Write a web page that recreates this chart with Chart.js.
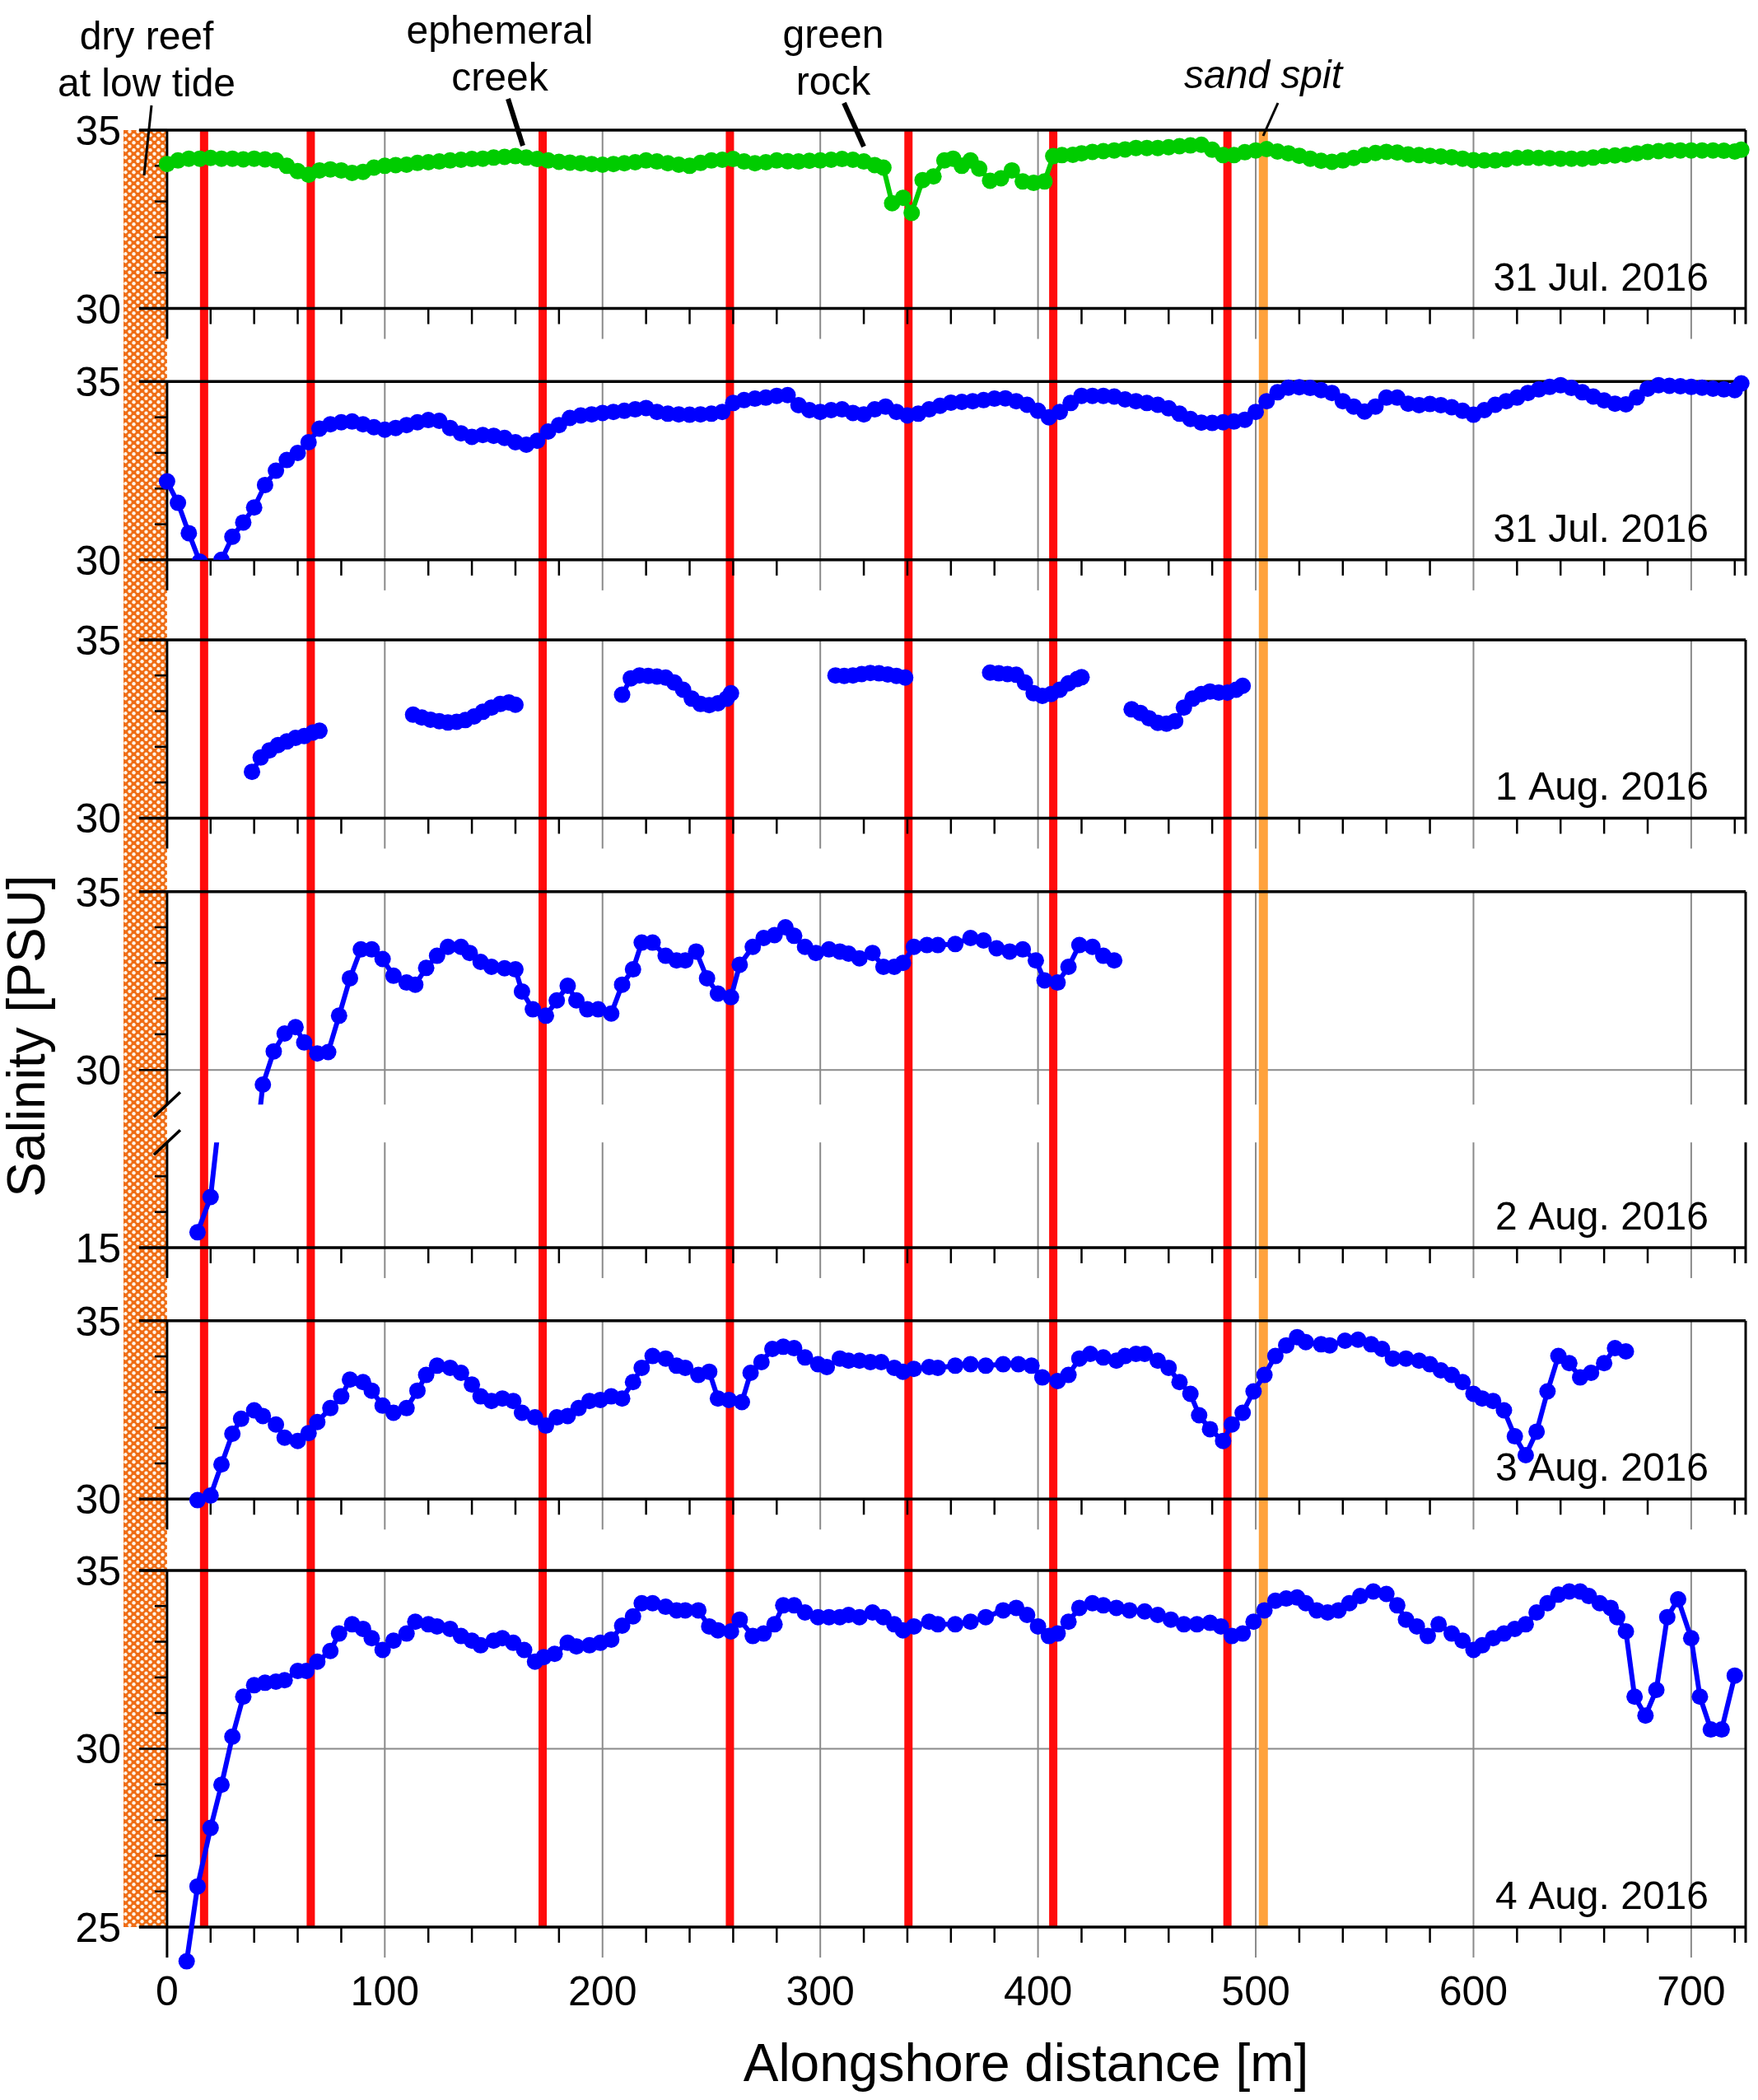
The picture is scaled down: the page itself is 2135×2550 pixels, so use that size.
<!DOCTYPE html>
<html>
<head>
<meta charset="utf-8">
<title>Alongshore salinity</title>
<script src="https://cdn.jsdelivr.net/npm/chart.js@4.4.1/dist/chart.umd.min.js"></script>
<style>
  html, body { margin: 0; padding: 0; background: #fff; }
  canvas { display: block; }
</style>
</head>
<body>
<canvas id="salinity" width="2135" height="2550"></canvas>
<script>
// alongshore distance [m] and salinity [PSU] of each survey
var jul31aDist = [0, 5, 10, 15, 20, 25, 30, 35, 40, 45,
  50, 55, 60, 65, 70, 75, 80, 85, 90, 95,
  100, 105, 110, 115, 120, 125, 130, 135, 140, 145,
  150, 155, 160, 165, 170, 175, 180, 185, 190, 195,
  200, 205, 210, 215, 220, 225, 230, 235, 240, 245,
  250, 255, 260, 265, 270, 275, 280, 285, 290, 295,
  300, 305, 310, 315, 320, 325, 329, 333, 338, 342,
  347, 352, 357, 361, 365, 369, 373, 378, 383, 388,
  393, 398, 403, 407, 411, 416, 420, 425, 430, 435,
  440, 445, 450, 455, 460, 465, 470, 475, 480, 485,
  490, 495, 500, 505, 510, 515, 520, 525, 530, 535,
  540, 545, 550, 555, 560, 565, 570, 575, 580, 585,
  590, 595, 600, 605, 610, 615, 620, 625, 630, 635,
  640, 645, 650, 655, 660, 665, 670, 675, 680, 685,
  690, 695, 700, 705, 710, 715, 720, 723];
var jul31aSal = [34.05, 34.15, 34.2, 34.2, 34.22, 34.2, 34.2, 34.18, 34.2, 34.18,
  34.15, 34.0, 33.85, 33.75, 33.87, 33.9, 33.87, 33.8, 33.83, 33.95,
  34.0, 34.02, 34.03, 34.08, 34.1, 34.12, 34.15, 34.17, 34.19, 34.2,
  34.23, 34.25, 34.27, 34.23, 34.19, 34.15, 34.11, 34.09, 34.07, 34.05,
  34.03, 34.05, 34.07, 34.1, 34.15, 34.12, 34.07, 34.03, 34.0, 34.08,
  34.15, 34.17, 34.19, 34.12, 34.07, 34.1, 34.15, 34.13, 34.12, 34.14,
  34.15, 34.17, 34.19, 34.17, 34.12, 34.02, 33.95, 32.95, 33.1, 32.68,
  33.6, 33.7, 34.15, 34.2, 34.0, 34.15, 33.92, 33.58, 33.65, 33.87,
  33.56, 33.52, 33.56, 34.27, 34.3, 34.31, 34.35, 34.39, 34.41, 34.43,
  34.46, 34.5, 34.5, 34.5, 34.52, 34.55, 34.57, 34.59, 34.45, 34.3,
  34.3, 34.38, 34.43, 34.47, 34.4, 34.35, 34.28, 34.2, 34.14, 34.11,
  34.15, 34.22, 34.3, 34.36, 34.39, 34.37, 34.32, 34.3, 34.28, 34.26,
  34.24, 34.2, 34.16, 34.15, 34.15, 34.18, 34.22, 34.23, 34.22, 34.21,
  34.2, 34.2, 34.2, 34.23, 34.27, 34.29, 34.31, 34.35, 34.39, 34.41,
  34.43, 34.43, 34.43, 34.43, 34.43, 34.42, 34.4, 34.45];

var jul31bDist = [0, 5, 10, 15, 20, 25, 30, 35, 40, 45,
  50, 55, 60, 65, 70, 75, 80, 85, 90, 95,
  100, 105, 110, 115, 120, 125, 130, 135, 140, 145,
  150, 155, 160, 165, 170, 175, 180, 185, 190, 195,
  200, 205, 210, 215, 220, 225, 230, 235, 240, 245,
  250, 255, 260, 265, 270, 275, 280, 285, 290, 295,
  300, 305, 310, 315, 320, 325, 330, 335, 340, 345,
  350, 355, 360, 365, 370, 375, 380, 385, 390, 395,
  400, 405, 410, 415, 420, 425, 430, 435, 440, 445,
  450, 455, 460, 465, 470, 475, 480, 485, 490, 495,
  500, 505, 510, 515, 520, 525, 530, 535, 540, 545,
  550, 555, 560, 565, 570, 575, 580, 585, 590, 595,
  600, 605, 610, 615, 620, 625, 630, 635, 640, 645,
  650, 655, 660, 665, 670, 675, 680, 685, 690, 695,
  700, 705, 710, 715, 720, 723];
var jul31bSal = [32.2, 31.6, 30.75, 29.95, 29.3, 30.0, 30.65, 31.05, 31.47, 32.1,
  32.5, 32.8, 33.0, 33.3, 33.68, 33.8, 33.86, 33.88, 33.8, 33.72,
  33.65, 33.7, 33.78, 33.86, 33.92, 33.9, 33.7, 33.55, 33.45, 33.5,
  33.48, 33.42, 33.3, 33.23, 33.34, 33.6, 33.78, 33.98, 34.05, 34.08,
  34.12, 34.15, 34.18, 34.22, 34.26, 34.15, 34.1, 34.08, 34.07, 34.08,
  34.1, 34.15, 34.4, 34.48, 34.52, 34.55, 34.6, 34.62, 34.34, 34.2,
  34.15, 34.2, 34.22, 34.12, 34.08, 34.22, 34.3, 34.15, 34.05, 34.1,
  34.22, 34.32, 34.41, 34.43, 34.45, 34.48, 34.52, 34.53, 34.45, 34.35,
  34.18, 34.0, 34.15, 34.4, 34.6, 34.6, 34.6, 34.58, 34.5, 34.45,
  34.4, 34.35, 34.25, 34.1, 33.95, 33.85, 33.84, 33.86, 33.88, 33.93,
  34.15, 34.45, 34.7, 34.83, 34.84, 34.82, 34.76, 34.68, 34.45, 34.3,
  34.16, 34.3, 34.55, 34.55, 34.38, 34.34, 34.37, 34.34, 34.28, 34.18,
  34.07, 34.2, 34.35, 34.45, 34.55, 34.68, 34.78, 34.85, 34.9, 34.82,
  34.7, 34.58, 34.47, 34.38, 34.36, 34.56, 34.8, 34.9, 34.88, 34.87,
  34.85, 34.83, 34.8, 34.78, 34.76, 34.95];

// null = no record between two stretches of the 1 Aug. survey
var aug1Dist = [39, 43, 47, 51, 55, 59, 63, 67, 70, 90,
  113, 117, 121, 125, 129, 133, 137, 141, 145, 149, 153, 157, 160, 185,
  209, 213, 217, 221, 225, 229, 233, 237, 241, 245, 249, 253, 257, 259, 283,
  307, 311, 315, 319, 323, 327, 331, 335, 339, 360,
  378, 382, 386, 390, 394, 398, 402, 406, 410, 414, 418, 420, 430,
  443, 447, 451, 455, 459, 463, 467, 471, 475, 479, 483, 487, 491, 494];
var aug1Sal = [31.3, 31.7, 31.9, 32.05, 32.15, 32.25, 32.3, 32.4, 32.45, null,
  32.9, 32.82, 32.76, 32.72, 32.68, 32.7, 32.75, 32.85, 32.98, 33.1, 33.2, 33.24, 33.18, null,
  33.46, 33.92, 34.0, 33.99, 33.97, 33.94, 33.8, 33.6, 33.35, 33.2, 33.17, 33.22, 33.35, 33.5, null,
  34.0, 33.99, 34.0, 34.04, 34.07, 34.06, 34.03, 33.99, 33.94, null,
  34.08, 34.06, 34.04, 34.02, 33.8, 33.5, 33.43, 33.48, 33.6, 33.78, 33.9, 33.95, null,
  33.05, 32.95, 32.8, 32.67, 32.65, 32.72, 33.1, 33.35, 33.48, 33.55, 33.52, 33.52, 33.6, 33.71];

var aug2Dist = [14, 20, 44, 49, 54, 59, 63, 69, 74, 79,
  84, 89, 94, 99, 104, 110, 114, 119, 124, 129,
  135, 139, 144, 149, 155, 160, 163, 168, 174, 179,
  184, 188, 193, 198, 204, 209, 214, 218, 223, 229,
  234, 238, 243, 248, 253, 259, 263, 269, 274, 279,
  284, 288, 293, 298, 304, 309, 313, 318, 324, 329,
  334, 338, 343, 349, 354, 362, 369, 375, 381, 387,
  393, 399, 403, 409, 414, 419, 425, 430, 435];
var aug2Sal = [15.43, 16.42, 29.59, 30.52, 31.02, 31.2, 30.77, 30.46, 30.5, 31.52,
  32.57, 33.38, 33.38, 33.11, 32.64, 32.45, 32.39, 32.86, 33.2, 33.45,
  33.45, 33.28, 33.03, 32.89, 32.85, 32.82, 32.2, 31.7, 31.52, 31.95,
  32.36, 31.95, 31.7, 31.7, 31.58, 32.39, 32.82, 33.57, 33.57, 33.2,
  33.07, 33.07, 33.32, 32.57, 32.14, 32.04, 32.95, 33.45, 33.7, 33.78,
  34.0, 33.76, 33.45, 33.28, 33.38, 33.32, 33.26, 33.13, 33.28, 32.89,
  32.89, 33.0, 33.45, 33.5, 33.5, 33.53, 33.7, 33.63, 33.41, 33.32,
  33.38, 33.07, 32.51, 32.45, 32.89, 33.5, 33.45, 33.2, 33.07];

var aug3Dist = [14, 20, 25, 30, 34, 40, 44, 50, 54, 60,
  65, 69, 75, 80, 84, 90, 94, 99, 104, 110,
  115, 119, 124, 130, 135, 140, 144, 149, 154, 159,
  163, 169, 174, 179, 184, 189, 194, 199, 204, 209,
  214, 218, 223, 229, 234, 238, 244, 249, 253, 258,
  264, 268, 273, 278, 283, 288, 293, 299, 303, 309,
  313, 318, 323, 328, 334, 338, 343, 350, 354, 362,
  369, 376, 384, 391, 397, 402, 409, 414, 419, 424,
  430, 436, 440, 445, 449, 455, 460, 465, 470, 474,
  479, 485, 489, 494, 499, 504, 509, 514, 519, 523,
  530, 534, 541, 547, 553, 558, 563, 569, 575, 580,
  585, 590, 595, 600, 604, 609, 614, 619, 624, 629,
  634, 639, 644, 649, 654, 660, 665, 670];
var aug3Sal = [29.97, 30.1, 30.97, 31.83, 32.25, 32.49, 32.33, 32.09, 31.72, 31.63,
  31.85, 32.16, 32.55, 32.88, 33.35, 33.28, 33.04, 32.62, 32.42, 32.55,
  33.04, 33.48, 33.74, 33.68, 33.54, 33.21, 32.88, 32.75, 32.82, 32.75,
  32.42, 32.29, 32.06, 32.29, 32.33, 32.55, 32.75, 32.78, 32.88, 32.82,
  33.28, 33.68, 34.01, 33.94, 33.74, 33.68, 33.48, 33.57, 32.82, 32.78,
  32.72, 33.54, 33.84, 34.21, 34.27, 34.23, 33.97, 33.78, 33.7, 33.94,
  33.88, 33.88, 33.84, 33.84, 33.68, 33.57, 33.65, 33.7, 33.68, 33.74,
  33.78, 33.74, 33.78, 33.78, 33.74, 33.41, 33.31, 33.48, 33.94, 34.07,
  33.97, 33.88, 34.01, 34.07, 34.07, 33.88, 33.68, 33.28, 32.95, 32.35,
  31.96, 31.63, 32.09, 32.42, 33.02, 33.48, 34.01, 34.31, 34.54, 34.4,
  34.34, 34.31, 34.44, 34.47, 34.34, 34.21, 33.94, 33.94, 33.88, 33.78,
  33.61, 33.48, 33.28, 32.95, 32.82, 32.75, 32.49, 31.76, 31.23, 31.89,
  33.02, 34.01, 33.81, 33.41, 33.54, 33.81, 34.23, 34.14];

var aug4Dist = [9, 14, 20, 25, 30, 35, 40, 45, 50, 54,
  60, 64, 69, 75, 79, 85, 90, 94, 99, 104,
  110, 114, 120, 124, 130, 135, 140, 144, 150, 154,
  159, 164, 169, 173, 178, 184, 188, 194, 199, 204,
  209, 214, 218, 223, 229, 234, 238, 244, 249, 253,
  259, 263, 269, 274, 279, 283, 288, 293, 299, 304,
  309, 313, 318, 324, 329, 334, 338, 343, 350, 354,
  362, 369, 376, 384, 390, 395, 400, 405, 409, 414,
  419, 425, 430, 436, 442, 449, 455, 461, 467, 473,
  479, 484, 489, 494, 499, 504, 509, 514, 519, 523,
  528, 533, 538, 543, 548, 554, 560, 565, 569, 574,
  579, 584, 590, 595, 600, 604, 609, 614, 619, 624,
  629, 634, 639, 644, 649, 653, 658, 663, 666, 670,
  674, 679, 684, 689, 694, 700, 704, 709, 714, 720];
var aug4Sal = [24.04, 26.14, 27.78, 28.99, 30.34, 31.46, 31.78, 31.85, 31.88, 31.92,
  32.18, 32.18, 32.44, 32.74, 33.23, 33.49, 33.36, 33.1, 32.77, 33.03,
  33.23, 33.56, 33.49, 33.43, 33.36, 33.16, 33.03, 32.9, 33.03, 33.1,
  32.97, 32.77, 32.44, 32.57, 32.66, 32.97, 32.87, 32.9, 32.97, 33.06,
  33.45, 33.71, 34.08, 34.08, 33.98, 33.88, 33.88, 33.88, 33.43, 33.32,
  33.29, 33.62, 33.16, 33.23, 33.49, 34.02, 34.02, 33.82, 33.69, 33.69,
  33.69, 33.75, 33.69, 33.82, 33.69, 33.49, 33.32, 33.43, 33.56, 33.49,
  33.49, 33.56, 33.69, 33.88, 33.95, 33.75, 33.43, 33.16, 33.23, 33.56,
  33.95, 34.08, 34.02, 33.95, 33.88, 33.85, 33.75, 33.62, 33.49, 33.49,
  33.53, 33.43, 33.16, 33.23, 33.56, 33.88, 34.15, 34.21, 34.24, 34.08,
  33.88, 33.82, 33.88, 34.08, 34.28, 34.41, 34.34, 34.02, 33.62, 33.43,
  33.16, 33.49, 33.23, 33.03, 32.77, 32.9, 33.1, 33.23, 33.36, 33.49,
  33.82, 34.08, 34.32, 34.41, 34.41, 34.28, 34.08, 33.95, 33.69, 33.29,
  31.46, 30.93, 31.65, 33.69, 34.19, 33.1, 31.46, 30.54, 30.54, 32.05];

var surveyDates = ["31 Jul. 2016", "31 Jul. 2016", "1 Aug. 2016", "2 Aug. 2016", "3 Aug. 2016", "4 Aug. 2016"];
var outletDist = [17, 66, 172.5, 258.5, 340.5, 407, 487]; // red lines
var spitDist = [503.5]; // sand spit (orange line)
var xTicks = [0, 100, 200, 300, 400, 500, 600, 700];

// site notes above the top panel
var siteNotes = [
  { lines: ["dry reef", "at low tide"], x: 178, y: 60 },
  { lines: ["ephemeral", "creek"], x: 607, y: 53 },
  { lines: ["green", "rock"], x: 1012, y: 58 },
  { lines: ["sand spit"], x: 1534, y: 107, italic: true },
];
var leaders = [[184, 128, 175, 213, 3], [617, 120, 635, 177, 6], [1025, 125, 1049, 178, 6], [1552, 125, 1534, 165, 3]];

// panel stack, top to bottom; y4/y5 are the two halves of the broken 2 Aug. axis
var panels = [
  { id: "y1", min: 30, max: 35, labels: [30, 35], date: 0 },
  { id: "y2", min: 30, max: 37.05, labels: [30, 35], date: 1 },
  { id: "y3", min: 30, max: 37.24, labels: [30, 35], date: 2 },
  { id: "y4", min: 29.03, max: 37.06, labels: [30, 35], grey: [30], open: true, gapAfter: 46 },
  { id: "y5", min: 15, max: 17.95, labels: [15], date: 3 },
  { id: "y6", min: 30, max: 37.05, labels: [30, 35], date: 4 },
  { id: "y7", min: 25, max: 37, labels: [25, 30, 35], grey: [30], date: 5 },
];

var FONT = '"Liberation Sans", Arial, Helvetica, sans-serif';
// panels fill top..bottom; the chart area runs a little lower so the last low point still shows
var area = { left: 150, right: 2120, top: 158, bottom: 2340 };
var chartBottom = 2420;

// every panel uses the same PSU-to-pixel ratio; each y scale spans the whole chart area
var span = panels.reduce(function (s, p) { return s + p.max - p.min; }, 0);
var gaps = panels.reduce(function (s, p) { return s + (p.gapAfter || 0); }, 0);
var unit = (area.bottom - area.top - gaps) / span;
var scales = { x: { type: "linear", min: -20, max: 725, display: false, bounds: "data" } };
var cursor = area.top;
panels.forEach(function (p) {
  var smax = p.max + (cursor - area.top) / unit;
  scales[p.id] = { type: "linear", display: false, bounds: "data", min: smax - (chartBottom - area.top) / unit, max: smax };
  cursor += (p.max - p.min) * unit + (p.gapAfter || 0);
});

function series(dist, sal, axis, color, clip) {
  return {
    data: dist.map(function (d, i) { return { x: d, y: sal[i] }; }),
    yAxisID: axis,
    borderColor: color,
    backgroundColor: color,
    pointBackgroundColor: color,
    borderWidth: 6,
    pointRadius: 10,
    pointBorderWidth: 0,
    tension: 0,
    spanGaps: false,
    clip: false,
    panelClip: clip || null,
  };
}

function line(ctx, x1, y1, x2, y2) {
  ctx.beginPath();
  ctx.moveTo(x1, y1);
  ctx.lineTo(x2, y2);
  ctx.stroke();
}

function reefPattern(ctx) {
  var c = document.createElement("canvas");
  c.width = 10;
  c.height = 9;
  var g = c.getContext("2d");
  g.fillStyle = "#ef6c14";
  g.fillRect(0, 0, 10, 9);
  g.fillStyle = "#fff5e8";
  [[2.5, 2.25], [7.5, 6.75]].forEach(function (d) {
    g.beginPath();
    g.arc(d[0], d[1], 2.2, 0, Math.PI * 2);
    g.fill();
  });
  return ctx.createPattern(c, "repeat");
}

// clip a dataset to the top and/or bottom edge of its own panel
var panelClip = {
  id: "panelClip",
  beforeDatasetDraw: function (chart, args) {
    var ds = chart.data.datasets[args.index];
    if (!ds.panelClip) return;
    var p = panels.find(function (q) { return q.id === ds.yAxisID; });
    var y = chart.scales[p.id];
    var top = ds.panelClip.top ? y.getPixelForValue(p.max) : 0;
    var bottom = ds.panelClip.bottom ? y.getPixelForValue(p.min) : chart.height;
    chart.ctx.save();
    chart.ctx.beginPath();
    chart.ctx.rect(0, top, chart.width, bottom - top);
    chart.ctx.clip();
  },
  afterDatasetDraw: function (chart, args) {
    if (chart.data.datasets[args.index].panelClip) chart.ctx.restore();
  },
};

var frame = {
  id: "frame",
  beforeDatasetsDraw: function (chart) {
    var ctx = chart.ctx;
    var xs = chart.scales.x;
    var px = function (v) { return xs.getPixelForValue(v); };
    var x0 = px(0), xR = px(725);
    var last = panels[panels.length - 1];
    var top = chart.chartArea.top;
    var bottom = chart.scales[last.id].getPixelForValue(last.min);
    ctx.save();
    ctx.lineCap = "butt";

    // dry reef
    ctx.fillStyle = reefPattern(ctx);
    ctx.fillRect(px(-20), top, x0 - px(-20), bottom - top);

    // grey grid
    ctx.strokeStyle = "#8a8a8a";
    ctx.lineWidth = 2;
    panels.forEach(function (p) {
      var y = chart.scales[p.id];
      var gTop = y.getPixelForValue(Math.min(35, p.max));
      var gBot = y.getPixelForValue(p.min);
      xTicks.slice(1).forEach(function (v) {
        line(ctx, px(v), gTop, px(v), gBot + (p.open ? 0 : 37));
      });
      (p.grey || []).forEach(function (v) {
        line(ctx, x0 - 34, y.getPixelForValue(v), xR, y.getPixelForValue(v));
      });
    });

    // outlets and sand spit
    ctx.lineWidth = 10;
    ctx.strokeStyle = "#ff0c0c";
    outletDist.forEach(function (v) { line(ctx, px(v), top, px(v), bottom); });
    ctx.lineWidth = 11;
    ctx.strokeStyle = "#ffa23c";
    spitDist.forEach(function (v) { line(ctx, px(v), top, px(v), bottom); });

    // panel frames, axis and ticks
    ctx.strokeStyle = "#000";
    panels.forEach(function (p) {
      var y = chart.scales[p.id];
      var gTop = y.getPixelForValue(Math.min(35, p.max));
      var gBot = y.getPixelForValue(p.min);
      ctx.lineWidth = 3.5;
      if (p.max >= 35) line(ctx, x0 - 34, gTop, xR, gTop);
      if (!p.open) line(ctx, x0 - 34, gBot, xR, gBot);
      ctx.lineWidth = 3;
      line(ctx, x0, gTop, x0, gBot + (p.open ? 0 : 37));
      line(ctx, xR, gTop, xR, gBot + (p.open ? 0 : 19));
      ctx.lineWidth = 2.5;
      for (var v = Math.ceil(p.min); v <= Math.min(35, p.max); v++) {
        var len = p.labels.indexOf(v) >= 0 ? 34 : 15;
        line(ctx, x0 - len, y.getPixelForValue(v), x0, y.getPixelForValue(v));
      }
      if (!p.open) {
        for (var m = 20; m < 725; m += 20) {
          if (m % 100) line(ctx, px(m), gBot, px(m), gBot + 19);
        }
      } else {
        // axis break marks
        ctx.lineWidth = 3.5;
        [gBot, gBot + p.gapAfter].forEach(function (yb) {
          line(ctx, x0 - 16, yb + 15, x0 + 16, yb - 15);
        });
      }
    });
    ctx.restore();
  },
  afterDraw: function (chart) {
    var ctx = chart.ctx;
    var xs = chart.scales.x;
    ctx.save();
    ctx.fillStyle = "#000";
    ctx.textBaseline = "alphabetic";

    ctx.font = "50px " + FONT;
    ctx.textAlign = "right";
    panels.forEach(function (p) {
      var y = chart.scales[p.id];
      p.labels.forEach(function (v) { ctx.fillText(String(v), 147, y.getPixelForValue(v) + 18); });
    });

    ctx.font = "48px " + FONT;
    panels.forEach(function (p) {
      if (p.date === undefined) return;
      ctx.fillText(surveyDates[p.date], 2075, chart.scales[p.id].getPixelForValue(p.min) - 22);
    });

    ctx.textAlign = "center";
    ctx.font = "50px " + FONT;
    xTicks.forEach(function (v) { ctx.fillText(String(v), xs.getPixelForValue(v), 2435); });

    ctx.font = "64px " + FONT;
    ctx.fillText("Alongshore distance [m]", 1246, 2527);
    ctx.save();
    ctx.translate(36, 1258);
    ctx.rotate(-Math.PI / 2);
    ctx.textBaseline = "middle";
    ctx.fillText("Salinity [PSU]", 0, 0);
    ctx.restore();

    siteNotes.forEach(function (n) {
      ctx.font = (n.italic ? "italic " : "") + "48px " + FONT;
      n.lines.forEach(function (t, i) { ctx.fillText(t, n.x, n.y + i * 57); });
    });
    ctx.strokeStyle = "#000";
    leaders.forEach(function (l) {
      ctx.lineWidth = l[4];
      line(ctx, l[0], l[1], l[2], l[3]);
    });
    ctx.restore();
  },
};

var blue = "#0000ff";
var green = "#00cc00";

new Chart(document.getElementById("salinity"), {
  type: "line",
  data: {
    datasets: [
      series(jul31aDist, jul31aSal, "y1", green),
      series(jul31bDist, jul31bSal, "y2", blue, { bottom: true }),
      series(aug1Dist, aug1Sal, "y3", blue),
      series(aug2Dist, aug2Sal, "y4", blue, { bottom: true }),
      series(aug2Dist, aug2Sal, "y5", blue, { top: true }),
      series(aug3Dist, aug3Sal, "y6", blue),
      series(aug4Dist, aug4Sal, "y7", blue),
    ],
  },
  options: {
    responsive: false,
    animation: false,
    devicePixelRatio: 1,
    events: [],
    layout: { padding: { left: area.left, right: 2135 - area.right, top: area.top, bottom: 2550 - chartBottom } },
    scales: scales,
    plugins: { legend: { display: false }, tooltip: { enabled: false } },
  },
  plugins: [panelClip, frame],
});
</script>
</body>
</html>
